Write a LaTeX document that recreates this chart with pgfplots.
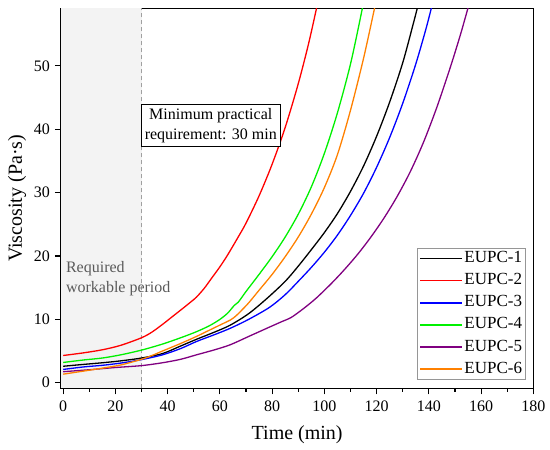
\documentclass[border=0pt]{standalone}
\usepackage{fontspec}
\setmainfont{Liberation Serif}
\usepackage{pgfplots}
\pgfplotsset{compat=1.18}
\definecolor{cgreen}{RGB}{0,240,0}
\definecolor{corange}{RGB}{255,128,0}
\definecolor{cpurple}{RGB}{128,0,128}
\definecolor{cshade}{RGB}{243,243,243}
\definecolor{dashgray}{RGB}{160,160,160}
\definecolor{txtgray}{RGB}{90,90,90}
\definecolor{leggray}{RGB}{150,150,150}
\begin{document}
\begin{tikzpicture}
\useasboundingbox (-61pt,-61.7pt) rectangle (489pt,388.3pt);
\begin{axis}[
  at={(0pt,0pt)}, anchor=south west,
  scale only axis, width=472.3pt, height=380pt,
  xmin=-0.85, xmax=180, ymin=-0.88, ymax=59.1,
  xtick={0,20,...,180}, minor x tick num=1,
  ytick={0,10,...,50},
  tick align=outside, xtick pos=lower, ytick pos=left,
  major tick length=6pt, minor tick length=3.5pt,
  axis line style={line width=1.2pt},
  every tick/.style={line width=1.1pt, black},
  tick label style={font=\fontsize{16}{16}\selectfont},
  xticklabel style={yshift=-3.5pt},
  yticklabel style={xshift=-1.5pt},
  /pgf/number format/assume math mode=true,
  xlabel={Time (min)}, ylabel={Viscosity (Pa·s)},
  label style={font=\fontsize{20}{20}\selectfont},
  xlabel style={at={(axis description cs:0.5,0)}, anchor=center, yshift=-46.7pt},
  ylabel style={at={(axis description cs:0,0.5)}, anchor=center, yshift=44pt},
  legend style={at={(rel axis cs:0.9845,0.0218)}, anchor=south east,
    draw=leggray, line width=0.8pt, font=\fontsize{17}{17}\selectfont,
    inner xsep=2pt, inner ysep=1.5pt, row sep=4.1pt, column sep=0pt,
    nodes={inner xsep=1.5pt, inner ysep=1pt, text height=12pt, text depth=4pt}},
  legend cell align=left,
  legend image code/.code={\draw[#1, line width=1.4pt] (0pt,0pt) -- (42pt,0pt);},
  every axis plot/.append style={line width=1.3pt, smooth, tension=0.5},
]
\fill[cshade] (axis cs:-0.85,-0.88) rectangle (axis cs:30,59.1);
\draw[dashgray, line width=0.9pt, dash pattern=on 4pt off 3pt] (axis cs:30,-0.88) -- (axis cs:30,59.1);

% EUPC-1
\addplot[draw=black] coordinates {(0,2.6)(8,2.9)(15,3.15)(22,3.45)(30,3.9)(38,4.6)(45,5.8)(51,6.85)(58,8.0)(64,9.1)(71,10.9)(78,13.3)(85,16.0)(90,18.4)(95,21.0)(100,23.7)(105,26.7)(110,30.2)(115,34.2)(120,38.9)(125,44.3)(130,50.5)(134,56.6)(136,59.8)};
\addlegendentry{EUPC-1}
% EUPC-2
\addplot[draw=red] coordinates {(0,4.3)(7.5,4.7)(15,5.2)(22,5.9)(30,7.1)(34,8.0)(38,9.2)(42,10.5)(46,11.8)(49,12.8)(51,13.5)(54,14.9)(57,16.6)(60,18.3)(63,20.2)(67,23.0)(70,25.2)(75,29.5)(80,34.5)(85,40.3)(90,47.2)(94,53.6)(97.2,59.5)};
\addlegendentry{EUPC-2}
% EUPC-3
\addplot[draw=blue] coordinates {(0,2.1)(8,2.5)(15,2.75)(22,3.1)(30,3.65)(38,4.4)(45,5.4)(51,6.5)(58,7.6)(64,8.6)(71,10.0)(79,11.9)(85,13.9)(90,16.0)(95,18.2)(100,20.6)(105,23.3)(110,26.4)(115,29.9)(120,34.0)(125,38.7)(130,44.1)(135,50.3)(139,56.0)(141.3,59.7)};
\addlegendentry{EUPC-3}
% EUPC-4
\addplot[draw=cgreen] coordinates {(0,3.2)(8,3.6)(15,3.9)(22,4.4)(30,5.15)(38,6.1)(45,7.1)(51,8.05)(56,9.0)(60,10.0)(63,11.0)(65.5,12.2)(67,12.7)(70,14.4)(75,17.1)(80,19.9)(85,23.0)(90,26.6)(95,30.9)(100,36.2)(105,42.6)(110,50.3)(114.3,58.6)(114.6,59.5)};
\addlegendentry{EUPC-4}
% EUPC-5
\addplot[draw=cpurple] coordinates {(0,1.74)(10,2.05)(20,2.4)(30,2.7)(38,3.15)(45,3.7)(51,4.4)(58,5.2)(64,6.0)(71,7.3)(78,8.6)(84,9.7)(87.3,10.3)(92,11.7)(97,13.4)(103,15.8)(108,18.0)(113,20.4)(118,23.1)(123,26.1)(128,29.5)(133,33.4)(138,38.0)(143,43.4)(148,49.5)(152,54.8)(155.3,59.6)};
\addlegendentry{EUPC-5}
% EUPC-6
\addplot[draw=corange] coordinates {(0,1.35)(8,1.85)(15,2.3)(22,2.8)(30,3.7)(34,4.3)(38,5.0)(45,6.2)(51,7.3)(56,8.3)(60,9.1)(64,9.9)(66,10.5)(68,11.3)(71,12.6)(75,14.6)(80,17.1)(85,19.9)(90,23.0)(95,26.6)(100,30.8)(105,36.0)(110,43.0)(115,51.2)(119.1,58.9)(119.4,59.5)};
\addlegendentry{EUPC-6}

\node[anchor=west, align=left, text=txtgray, inner sep=0pt,
  font=\fontsize{16}{20}\selectfont] at (axis cs:1.0,16.5) {Required\\workable period};
\node[draw=black, fill=white, line width=0.9pt, align=center, inner xsep=3.5pt, inner ysep=4pt,
  font=\fontsize{16}{20}\selectfont] at (axis cs:56.5,40.6) {Minimum practical\\requirement: 30 min};
\end{axis}
\end{tikzpicture}
\end{document}
